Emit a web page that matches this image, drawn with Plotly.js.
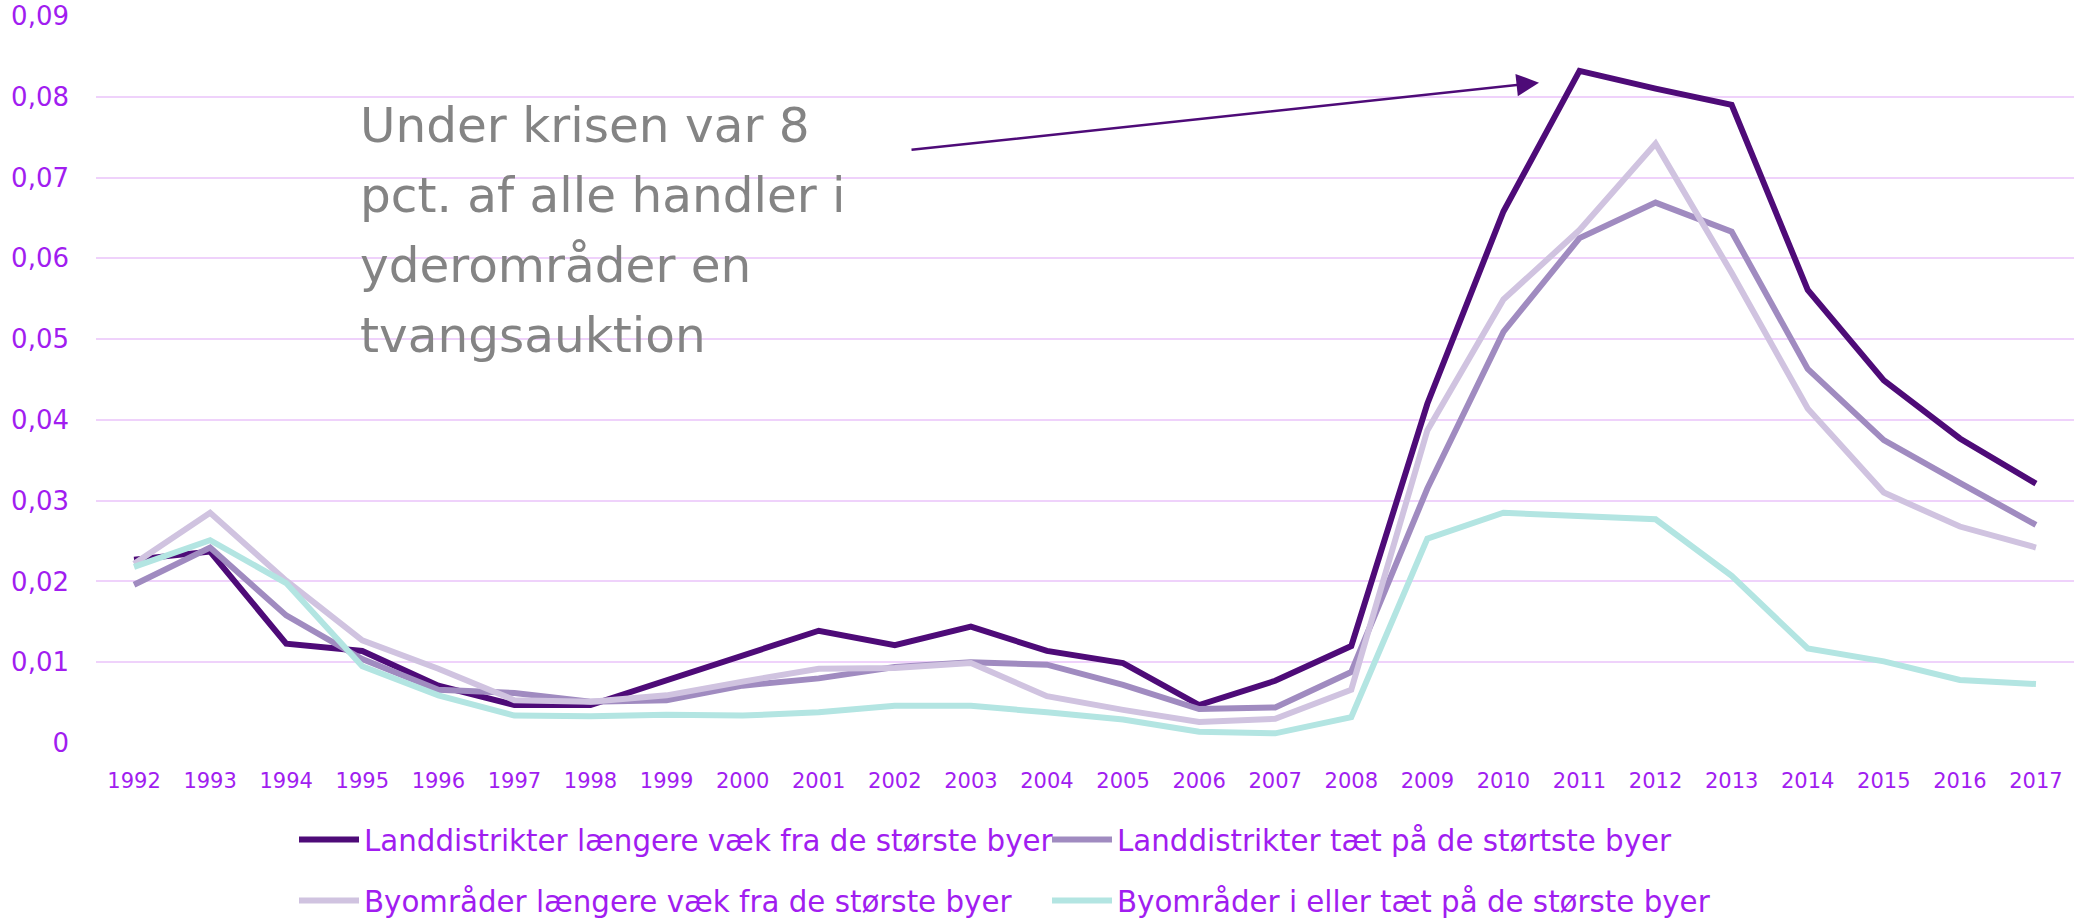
<!DOCTYPE html>
<html>
<head>
<meta charset="utf-8">
<script src="https://cdn.plot.ly/plotly-3.0.1.min.js"></script>
<style>html,body{margin:0;padding:0;background:#fff;}#chart{width:2074px;height:922px;}</style>
</head>
<body>
<div id="chart"></div>
<script>
const years = ["1992","1993","1994","1995","1996","1997","1998","1999","2000","2001","2002","2003","2004","2005","2006","2007","2008","2009","2010","2011","2012","2013","2014","2015","2016","2017"];

const landFar = [0.0227,0.0237,0.0123,0.0114,0.0071,0.0047,0.0047,0.0078,0.0108,0.0139,0.0121,0.0144,0.0114,0.0099,0.0047,0.0077,0.0120,0.0420,0.0658,0.0832,0.0810,0.0790,0.0561,0.0449,0.0377,0.0321];
const landNear = [0.0196,0.0242,0.0158,0.0104,0.0066,0.0062,0.0051,0.0053,0.0071,0.0080,0.0094,0.0100,0.0097,0.0072,0.0042,0.0044,0.0088,0.0315,0.0509,0.0625,0.0669,0.0633,0.0463,0.0375,0.0322,0.0270];
const cityFar = [0.0222,0.0285,0.0201,0.0127,0.0092,0.0053,0.0051,0.0059,0.0076,0.0092,0.0093,0.0099,0.0058,0.0041,0.0026,0.0030,0.0066,0.0387,0.0549,0.0635,0.0742,0.0582,0.0414,0.0310,0.0268,0.0242];
const cityNear = [0.0218,0.0251,0.0198,0.0095,0.0059,0.0034,0.0033,0.0035,0.0034,0.0038,0.0046,0.0046,0.0038,0.0029,0.0014,0.0012,0.0032,0.0253,0.0285,0.0281,0.0277,0.0207,0.0117,0.0101,0.0078,0.0073];

const seriesNames = [
  "Landdistrikter længere væk fra de største byer",
  "Landdistrikter tæt på de størtste byer",
  "Byområder længere væk fra de største byer",
  "Byområder i eller tæt på de største byer"
];
const yTickVals = [0,0.01,0.02,0.03,0.04,0.05,0.06,0.07,0.08,0.09];
const yTickText = ["0","0,01","0,02","0,03","0,04","0,05","0,06","0,07","0,08","0,09"];
const annotationLines = ["Under krisen var 8","pct. af alle handler i","yderområder en","tvangsauktion"];

const colors = ["#4E0B78","#A08BC0","#D0C3E0","#B3E5E2"];
const FONT = "DejaVu Sans, Open Sans, sans-serif";
const LABEL = "#A11DF0";

function tr(y, i, leg){
  return {x: years, y: y, type: "scatter", mode: "lines", name: seriesNames[i],
    line: {color: colors[i], width: 6}, legend: leg};
}
const data = [tr(landFar,0,"legend"), tr(landNear,1,"legend"), tr(cityFar,2,"legend2"), tr(cityNear,3,"legend2")];

const lineY = [125,195,265,335];
const annotations = annotationLines.map((t,i)=>({
  text: t, xref: "paper", yref: "paper", x: (358-96)/1978, y: (743-lineY[i])/727,
  xanchor: "left", yanchor: "middle", showarrow: false,
  font: {family: FONT, size: 48.5, color: "#848484"}
}));
annotations.push({
  text: "", xref: "paper", yref: "paper", x: (1539-96)/1978, y: (743-82.7)/727,
  ax: 910-1539, ay: 150-82.7, axref: "pixel", ayref: "pixel",
  showarrow: true, arrowhead: 2, arrowsize: 1.8, arrowwidth: 2.5, arrowcolor: "#4E0B78", standoff: 0
});

const legBase = {orientation: "h", xanchor: "left", yanchor: "middle", bgcolor: "rgba(0,0,0,0)",
  font: {family: FONT, size: 29.3, color: LABEL}, entrywidth: 678, entrywidthmode: "pixels", itemwidth: 60, traceorder: "normal"};

const layout = {
  width: 2074, height: 922,
  margin: {l: 96, r: 0, t: 16, b: 179, autoexpand: false},
  paper_bgcolor: "#ffffff", plot_bgcolor: "#ffffff",
  showlegend: true,
  legend: Object.assign({}, legBase, {x: (294-96)/1978, y: (743-840)/727}),
  legend2: Object.assign({}, legBase, {x: (294-96)/1978, y: (743-901)/727}),
  xaxis: {type: "category", range: [-0.5, 25.5], showgrid: false, zeroline: false, showline: false,
    ticks: "", tickfont: {family: FONT, size: 21, color: LABEL}, ticklabelstandoff: 23, fixedrange: true},
  yaxis: {range: [0, 0.09], tickvals: yTickVals, ticktext: yTickText, showgrid: true, gridcolor: "#EFD2FB", gridwidth: 2,
    zeroline: false, showline: false, ticks: "", tickfont: {family: FONT, size: 26, color: LABEL}, ticklabelstandoff: 26, fixedrange: true},
  annotations: annotations
};
Plotly.newPlot("chart", data, layout, {displayModeBar: false, staticPlot: true});
</script>
</body>
</html>
